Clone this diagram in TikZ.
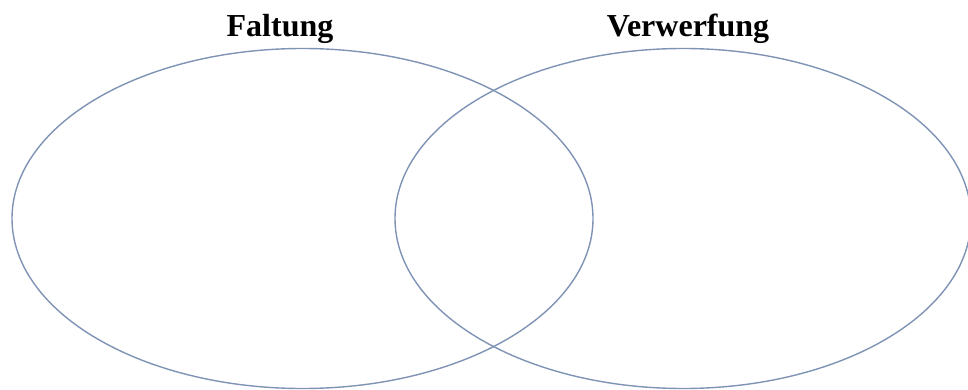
\documentclass[tikz,border=0pt]{standalone}
\usepackage{fontspec}
\setmainfont{Liberation Serif}
\definecolor{setblue}{HTML}{7F93B5}

\begin{document}
\begin{tikzpicture}[
  x=1pt, y=-1pt,
  line width=1.4pt,
  settitle/.style={font=\fontsize{32}{36}\selectfont\bfseries, anchor=base}
]

% Frame
\useasboundingbox (0,0) rectangle (968,390);

% ── Key coordinates ──
\coordinate (cfalt) at (302.5,218.5);
\coordinate (cverw) at (683,218.5);

% ── Set ellipses (right one runs past the frame) ──
\begin{scope}
  \clip (0,0) rectangle (968,390);
  \draw[setblue] (cfalt) ellipse (290.5 and 170);
  \draw[setblue] (cverw) ellipse (288 and 170);
\end{scope}

% ── Titles ──
\node[settitle] (tfalt) at (280,37) {Faltung};
\node[settitle] (tverw) at (688,37) {Verwerfung};

\end{tikzpicture}
\end{document}
